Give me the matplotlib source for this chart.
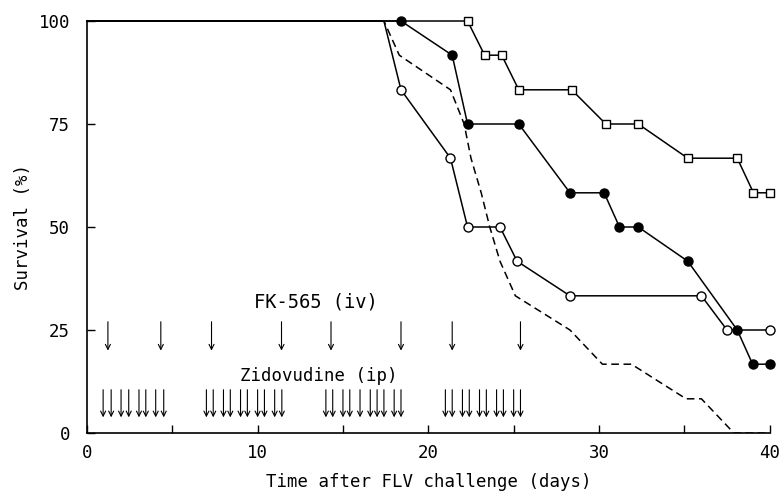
import matplotlib
matplotlib.use("Agg")
import matplotlib.pyplot as plt

plt.rcParams["font.family"] = "DejaVu Sans Mono"

# survival curves (day, % surviving)
sq_days = [0, 22.3, 23.3, 24.3, 25.3, 28.4, 30.4, 32.3, 35.2, 38.1, 39.05, 40.0]
sq_surv = [100, 100, 91.7, 91.7, 83.3, 83.3, 75, 75, 66.7, 66.7, 58.3, 58.3]

fc_days = [0, 18.4, 21.4, 22.3, 25.3, 28.3, 30.3, 31.2, 32.3, 35.2, 38.1, 39.0, 40.0]
fc_surv = [100, 100, 91.7, 75, 75, 58.3, 58.3, 50, 50, 41.7, 25, 16.7, 16.7]

oc_days = [0, 17.4, 18.4, 21.3, 22.3, 24.2, 25.2, 28.3, 36.0, 37.5, 40.0]
oc_surv = [100, 100, 83.3, 66.7, 50, 50, 41.7, 33.3, 33.3, 25, 25]

ctrl_days = [0, 17.4, 18.3, 21.3, 22.1, 22.5, 23.1, 23.6, 24.2, 25.1, 28.3,
             30.2, 31.9, 35.1, 36.0, 37.9, 40.0]
ctrl_surv = [100, 100, 91.7, 83.3, 75, 66.7, 58.3, 50, 41.7, 33.3, 25,
             16.7, 16.7, 8.3, 8.3, 0, 0]

# dosing schedules
fk565_days = [1.23, 4.33, 7.3, 11.4, 14.3, 18.4, 21.4, 25.4]
zdv_days = [0.95, 1.42, 2.0, 2.45, 3.05, 3.45, 4.03, 4.5,
            7.0, 7.4, 8.0, 8.4, 9.0, 9.4, 10.0, 10.4, 11.0, 11.42,
            14.0, 14.4, 15.0, 15.4, 16.0, 16.6, 17.0, 17.4, 18.0, 18.4,
            21.0, 21.4, 22.0, 22.4, 23.0, 23.4, 24.0, 24.4, 25.0, 25.4]

fig = plt.figure(figsize=(7.83, 4.93), dpi=100)
ax = fig.add_axes([0.111, 0.1217, 0.872, 0.8357])

ax.plot(ctrl_days, ctrl_surv, color="black", lw=1.1, linestyle=(0, (5, 3)))
ax.plot(oc_days, oc_surv, color="black", lw=1.1, marker="o", ms=6.5,
        mfc="white", mec="black", mew=1.0, markevery=list(range(2, len(oc_days))),
        clip_on=False, zorder=3)
ax.plot(fc_days, fc_surv, color="black", lw=1.1, marker="o", ms=6.5,
        mfc="black", mec="black", markevery=list(range(1, len(fc_days))),
        clip_on=False, zorder=4)
ax.plot(sq_days, sq_surv, color="black", lw=1.1, marker="s", ms=6,
        mfc="white", mec="black", mew=1.0, markevery=list(range(1, len(sq_days))),
        clip_on=False, zorder=3)

arrow = dict(arrowstyle="->", color="black", lw=0.8, mutation_scale=9,
             shrinkA=0, shrinkB=0)
for d in fk565_days:
    ax.annotate("", xy=(d, 20.0), xytext=(d, 27.0), arrowprops=arrow)
for d in zdv_days:
    ax.annotate("", xy=(d, 3.8), xytext=(d, 10.5), arrowprops=arrow)

ax.text(13.4, 31.8, "FK-565 (iv)", ha="center", va="center", fontsize=13.5)
ax.text(13.6, 13.8, "Zidovudine (ip)", ha="center", va="center", fontsize=12.5)

ax.set_xlim(0, 40)
ax.set_ylim(0, 100)
ax.set_xticks([0, 10, 20, 30, 40])
ax.set_xticks([5, 15, 25, 35], minor=True)
ax.set_yticks([0, 25, 50, 75, 100])
ax.tick_params(axis="both", which="both", direction="in", length=6, width=1,
               labelsize=12.5)
ax.tick_params(axis="y", pad=12)
ax.tick_params(axis="x", pad=8)
for s in ["top", "right"]:
    ax.spines[s].set_visible(False)
for s in ["left", "bottom"]:
    ax.spines[s].set_linewidth(1.2)

ax.set_xlabel("Time after FLV challenge (days)", fontsize=12.5, labelpad=8)
ax.set_ylabel("Survival (%)", fontsize=12.5, labelpad=5)

fig.savefig("out.png", dpi=100)
